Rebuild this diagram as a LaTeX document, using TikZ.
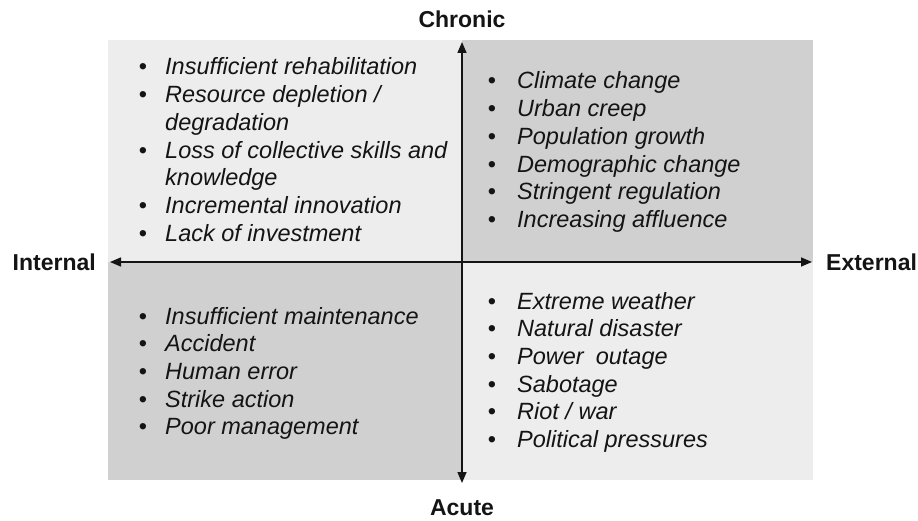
\documentclass[tikz,border=0pt]{standalone}
\usepackage{fontspec}
\setmainfont{Liberation Sans}
\usetikzlibrary{arrows.meta}
\definecolor{qlight}{RGB}{237,237,237}
\definecolor{qdark}{RGB}{208,208,208}
\definecolor{ink}{RGB}{20,20,20}
\begin{document}
\begin{tikzpicture}[x=1pt,y=-1pt,
  itm/.style={anchor=base west, inner sep=0pt, text=ink, font=\fontsize{23.5}{27.7}\selectfont\itshape},
  bul/.style={anchor=base, inner sep=0pt, text=ink, font=\fontsize{23.5}{27.7}\selectfont},
  axlabel/.style={inner sep=0pt, text=ink, font=\fontsize{23}{27}\selectfont\bfseries},
  axis/.style={draw=ink, line width=1.5pt, {Triangle[length=11pt,width=9pt]}-{Triangle[length=11pt,width=9pt]}}]
\useasboundingbox (0,0) rectangle (918,521);
% quadrants
\fill[qlight] (108,40) rectangle (462,262);
\fill[qdark]  (462,40) rectangle (813,262);
\fill[qdark]  (108,262) rectangle (462,480);
\fill[qlight] (462,262) rectangle (813,480);
% top-left
\node[bul] (tlb1) at (143,75) {•};
\node[itm] (tl1) at (165,75) {Insufficient rehabilitation};
\node[bul] (tlb2) at (143,102.7) {•};
\node[itm] (tl2) at (165,102.7) {Resource depletion /};
\node[itm] (tl2b) at (165,130.4) {degradation};
\node[bul] (tlb3) at (143,158.1) {•};
\node[itm] (tl3) at (165,158.1) {Loss of collective skills and};
\node[itm] (tl3b) at (165,185.8) {knowledge};
\node[bul] (tlb4) at (143,213.5) {•};
\node[itm] (tl4) at (165,213.5) {Incremental innovation};
\node[bul] (tlb5) at (143,241.2) {•};
\node[itm] (tl5) at (165,241.2) {Lack of investment};
% top-right
\node[bul] (trb1) at (492,89) {•};
\node[itm] (tr1) at (517,89) {Climate change};
\node[bul] (trb2) at (492,116.7) {•};
\node[itm] (tr2) at (517,116.7) {Urban creep};
\node[bul] (trb3) at (492,144.4) {•};
\node[itm] (tr3) at (517,144.4) {Population growth};
\node[bul] (trb4) at (492,172.1) {•};
\node[itm] (tr4) at (517,172.1) {Demographic change};
\node[bul] (trb5) at (492,199.8) {•};
\node[itm] (tr5) at (517,199.8) {Stringent regulation};
\node[bul] (trb6) at (492,227.5) {•};
\node[itm] (tr6) at (517,227.5) {Increasing affluence};
% bottom-left
\node[bul] (blb1) at (143,324) {•};
\node[itm] (bl1) at (165,324) {Insufficient maintenance};
\node[bul] (blb2) at (143,351.7) {•};
\node[itm] (bl2) at (165,351.7) {Accident};
\node[bul] (blb3) at (143,379.4) {•};
\node[itm] (bl3) at (165,379.4) {Human error};
\node[bul] (blb4) at (143,407.1) {•};
\node[itm] (bl4) at (165,407.1) {Strike action};
\node[bul] (blb5) at (143,434.8) {•};
\node[itm] (bl5) at (165,434.8) {Poor management};
% bottom-right
\node[bul] (brb1) at (492,309) {•};
\node[itm] (br1) at (517,309) {Extreme weather};
\node[bul] (brb2) at (492,336.7) {•};
\node[itm] (br2) at (517,336.7) {Natural disaster};
\node[bul] (brb3) at (492,364.4) {•};
\node[itm] (br3) at (517,364.4) {Power\hspace{12pt}outage};
\node[bul] (brb4) at (492,392.1) {•};
\node[itm] (br4) at (517,392.1) {Sabotage};
\node[bul] (brb5) at (492,419.8) {•};
\node[itm] (br5) at (517,419.8) {Riot / war};
\node[bul] (brb6) at (492,447.5) {•};
\node[itm] (br6) at (517,447.5) {Political pressures};
% axes
\coordinate (L) at (110,262);
\coordinate (R) at (812,262);
\coordinate (T) at (462,42);
\coordinate (B) at (462,483);
\draw[axis] (L) -- (R);
\draw[axis] (T) -- (B);
% axis labels
\node[axlabel] (chronic) at (462,19) {Chronic};
\node[axlabel, anchor=east] (internal) at (96,262) {Internal};
\node[axlabel, anchor=west] (external) at (826,262) {External};
\node[axlabel] (acute) at (462,508) {Acute};
\end{tikzpicture}
\end{document}
